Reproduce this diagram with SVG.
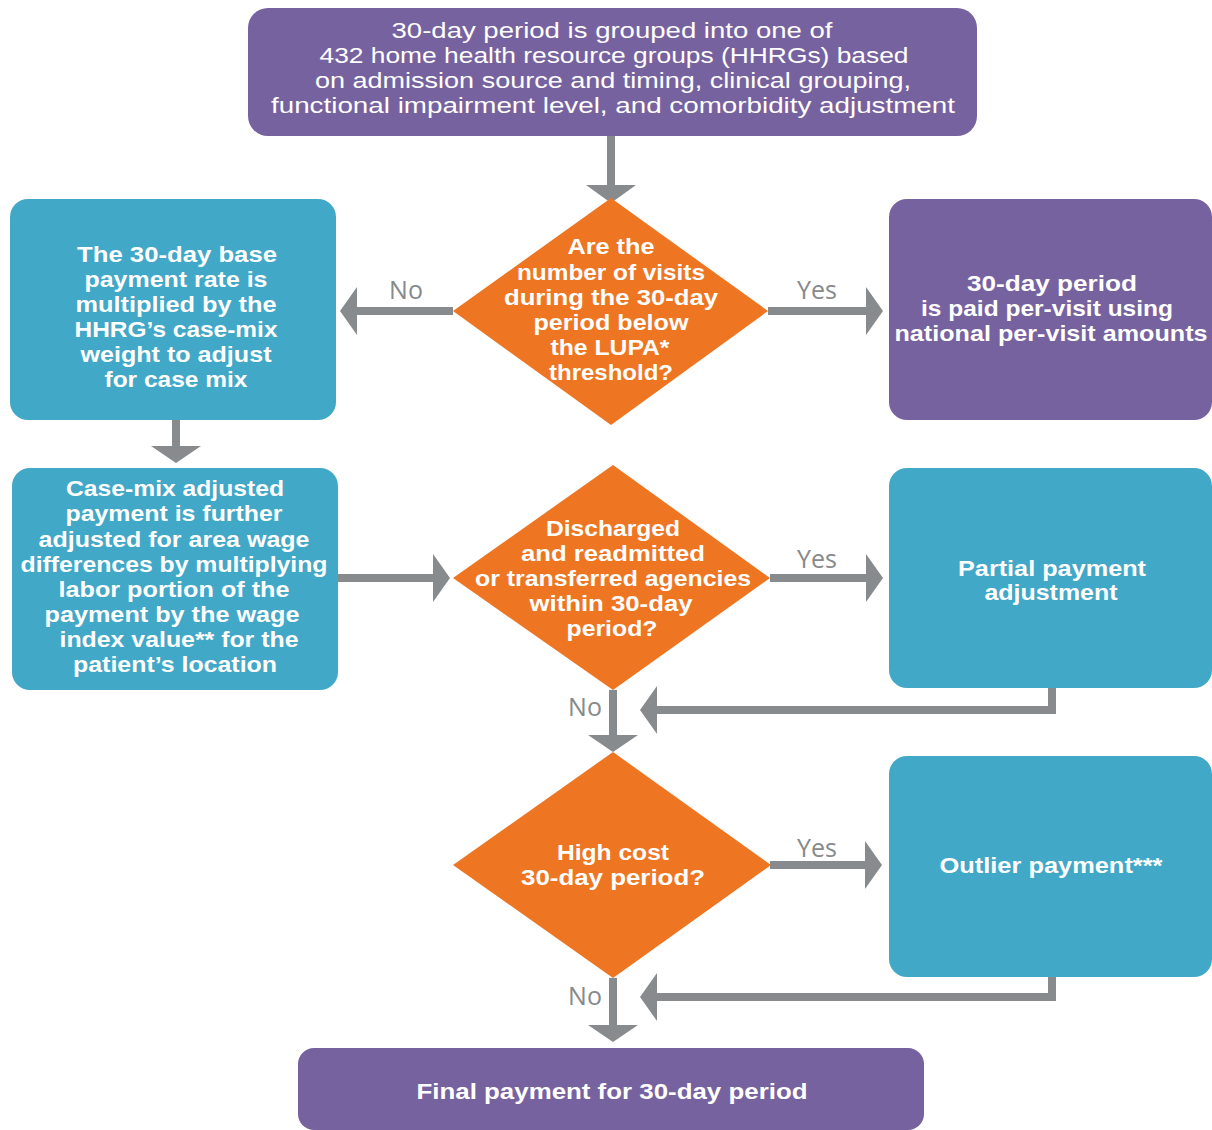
<svg xmlns="http://www.w3.org/2000/svg" width="1212" height="1130" viewBox="0 0 1212 1130">
<style>
.purple{fill:#7762A0}
.teal{fill:#41A8C8}
.orange{fill:#EE7623}
.t{fill:#FFFFFF;font-family:"Liberation Sans",Arial,sans-serif;font-size:22px;font-weight:bold;text-anchor:middle}
.tm{font-weight:normal}
.lbl{fill:#868A8C;font-family:"Open Sans","Liberation Sans",sans-serif;font-size:25px;font-weight:500;text-anchor:middle}
.ln{fill:none;stroke:#888B8D;stroke-width:8}
.hd{fill:#888B8D}
</style>
<rect width="1212" height="1130" fill="#FFFFFF"/>

<g id="connectors">
  <!-- top box to diamond 1 -->
  <line class="ln" x1="611" y1="136" x2="611" y2="186"/>
  <polygon class="hd" points="586,185 636,185 611,203"/>
  <!-- diamond 1 No left -->
  <line class="ln" x1="453" y1="311" x2="356" y2="311"/>
  <polygon class="hd" points="340,311 357,287 357,335"/>
  <text class="lbl" x="406" y="299">No</text>
  <!-- diamond 1 Yes right -->
  <line class="ln" x1="768" y1="311" x2="867" y2="311"/>
  <polygon class="hd" points="883,311 866,287 866,335"/>
  <text class="lbl" x="817" y="299">Yes</text>
  <!-- left box 1 to left box 2 -->
  <line class="ln" x1="176" y1="420" x2="176" y2="447"/>
  <polygon class="hd" points="151,446 201,446 176,463"/>
  <!-- left box 2 to diamond 2 -->
  <line class="ln" x1="338" y1="578" x2="434" y2="578"/>
  <polygon class="hd" points="450,578 433,554 433,602"/>
  <!-- diamond 2 Yes right -->
  <line class="ln" x1="770" y1="578" x2="867" y2="578"/>
  <polygon class="hd" points="883,578 866,554 866,602"/>
  <text class="lbl" x="817" y="568">Yes</text>
  <!-- right box 2 return -->
  <polyline class="ln" points="1052,688 1052,710 656,710"/>
  <polygon class="hd" points="640,710 657,686 657,734"/>
  <!-- diamond 2 No down -->
  <line class="ln" x1="613" y1="690" x2="613" y2="736"/>
  <polygon class="hd" points="588,735 638,735 613,752"/>
  <text class="lbl" x="585" y="716">No</text>
  <!-- diamond 3 Yes right -->
  <line class="ln" x1="770" y1="865" x2="866" y2="865"/>
  <polygon class="hd" points="882,865 865,841 865,889"/>
  <text class="lbl" x="817" y="857">Yes</text>
  <!-- right box 3 return -->
  <polyline class="ln" points="1052,977 1052,997 656,997"/>
  <polygon class="hd" points="640,997 657,973 657,1021"/>
  <!-- diamond 3 No down -->
  <line class="ln" x1="613" y1="978" x2="613" y2="1026"/>
  <polygon class="hd" points="588,1025 638,1025 613,1042"/>
  <text class="lbl" x="585" y="1005">No</text>
</g>

<g id="node-grouping">
  <rect class="purple" x="248" y="8" width="729" height="128" rx="20"/>
  <text class="t tm" x="612" y="38" textLength="441" lengthAdjust="spacingAndGlyphs">30-day period is grouped into one of</text>
  <text class="t tm" x="614" y="63" textLength="589" lengthAdjust="spacingAndGlyphs">432 home health resource groups (HHRGs) based</text>
  <text class="t tm" x="613" y="88" textLength="596" lengthAdjust="spacingAndGlyphs">on admission source and timing, clinical grouping,</text>
  <text class="t tm" x="613" y="113" textLength="684" lengthAdjust="spacingAndGlyphs">functional impairment level, and comorbidity adjustment</text>
</g>

<g id="node-lupa">
  <polygon class="orange" points="611,198 768,311 611,425 453,311"/>
  <text class="t" x="611" y="254" textLength="87" lengthAdjust="spacingAndGlyphs">Are the</text>
  <text class="t" x="611" y="280" textLength="188" lengthAdjust="spacingAndGlyphs">number of visits</text>
  <text class="t" x="611" y="305" textLength="214" lengthAdjust="spacingAndGlyphs">during the 30-day</text>
  <text class="t" x="611" y="330" textLength="155" lengthAdjust="spacingAndGlyphs">period below</text>
  <text class="t" x="610" y="355" textLength="119" lengthAdjust="spacingAndGlyphs">the LUPA*</text>
  <text class="t" x="611" y="380" textLength="124" lengthAdjust="spacingAndGlyphs">threshold?</text>
</g>

<g id="node-base-rate">
  <rect class="teal" x="10" y="199" width="326" height="221" rx="18"/>
  <text class="t" x="177" y="262" textLength="200" lengthAdjust="spacingAndGlyphs">The 30-day base</text>
  <text class="t" x="176" y="287" textLength="183" lengthAdjust="spacingAndGlyphs">payment rate is</text>
  <text class="t" x="176" y="312" textLength="201" lengthAdjust="spacingAndGlyphs">multiplied by the</text>
  <text class="t" x="176" y="337" textLength="203" lengthAdjust="spacingAndGlyphs">HHRG’s case-mix</text>
  <text class="t" x="176" y="362" textLength="191" lengthAdjust="spacingAndGlyphs">weight to adjust</text>
  <text class="t" x="176" y="387" textLength="143" lengthAdjust="spacingAndGlyphs">for case mix</text>
</g>

<g id="node-per-visit">
  <rect class="purple" x="889" y="199" width="323" height="221" rx="18"/>
  <text class="t" x="1052" y="291" textLength="170" lengthAdjust="spacingAndGlyphs">30-day period</text>
  <text class="t" x="1047" y="316" textLength="252" lengthAdjust="spacingAndGlyphs">is paid per-visit using</text>
  <text class="t" x="1051" y="341" textLength="313" lengthAdjust="spacingAndGlyphs">national per-visit amounts</text>
</g>

<g id="node-wage">
  <rect class="teal" x="12" y="468" width="326" height="222" rx="18"/>
  <text class="t" x="175" y="496" textLength="218" lengthAdjust="spacingAndGlyphs">Case-mix adjusted</text>
  <text class="t" x="174" y="521" textLength="217" lengthAdjust="spacingAndGlyphs">payment is further</text>
  <text class="t" x="174" y="547" textLength="271" lengthAdjust="spacingAndGlyphs">adjusted for area wage</text>
  <text class="t" x="174" y="572" textLength="307" lengthAdjust="spacingAndGlyphs">differences by multiplying</text>
  <text class="t" x="174" y="597" textLength="231" lengthAdjust="spacingAndGlyphs">labor portion of the</text>
  <text class="t" x="172" y="622" textLength="255" lengthAdjust="spacingAndGlyphs">payment by the wage</text>
  <text class="t" x="179" y="647" textLength="239" lengthAdjust="spacingAndGlyphs">index value** for the</text>
  <text class="t" x="175" y="672" textLength="204" lengthAdjust="spacingAndGlyphs">patient’s location</text>
</g>

<g id="node-discharged">
  <polygon class="orange" points="613,465 770,578 613,690 453,578"/>
  <text class="t" x="613" y="536" textLength="134" lengthAdjust="spacingAndGlyphs">Discharged</text>
  <text class="t" x="613" y="561" textLength="184" lengthAdjust="spacingAndGlyphs">and readmitted</text>
  <text class="t" x="613" y="586" textLength="276" lengthAdjust="spacingAndGlyphs">or transferred agencies</text>
  <text class="t" x="611" y="611" textLength="163" lengthAdjust="spacingAndGlyphs">within 30-day</text>
  <text class="t" x="612" y="636" textLength="91" lengthAdjust="spacingAndGlyphs">period?</text>
</g>

<g id="node-partial">
  <rect class="teal" x="889" y="468" width="323" height="220" rx="18"/>
  <text class="t" x="1052" y="576" textLength="188" lengthAdjust="spacingAndGlyphs">Partial payment</text>
  <text class="t" x="1051" y="600" textLength="133" lengthAdjust="spacingAndGlyphs">adjustment</text>
</g>

<g id="node-high-cost">
  <polygon class="orange" points="613,752 771,865 613,978 453,865"/>
  <text class="t" x="613" y="860" textLength="112" lengthAdjust="spacingAndGlyphs">High cost</text>
  <text class="t" x="613" y="885" textLength="184" lengthAdjust="spacingAndGlyphs">30-day period?</text>
</g>

<g id="node-outlier">
  <rect class="teal" x="889" y="756" width="323" height="221" rx="18"/>
  <text class="t" x="1051" y="873" textLength="223" lengthAdjust="spacingAndGlyphs">Outlier payment***</text>
</g>

<g id="node-final">
  <rect class="purple" x="298" y="1048" width="626" height="82" rx="16"/>
  <text class="t" x="612" y="1099" textLength="391" lengthAdjust="spacingAndGlyphs">Final payment for 30-day period</text>
</g>
</svg>
